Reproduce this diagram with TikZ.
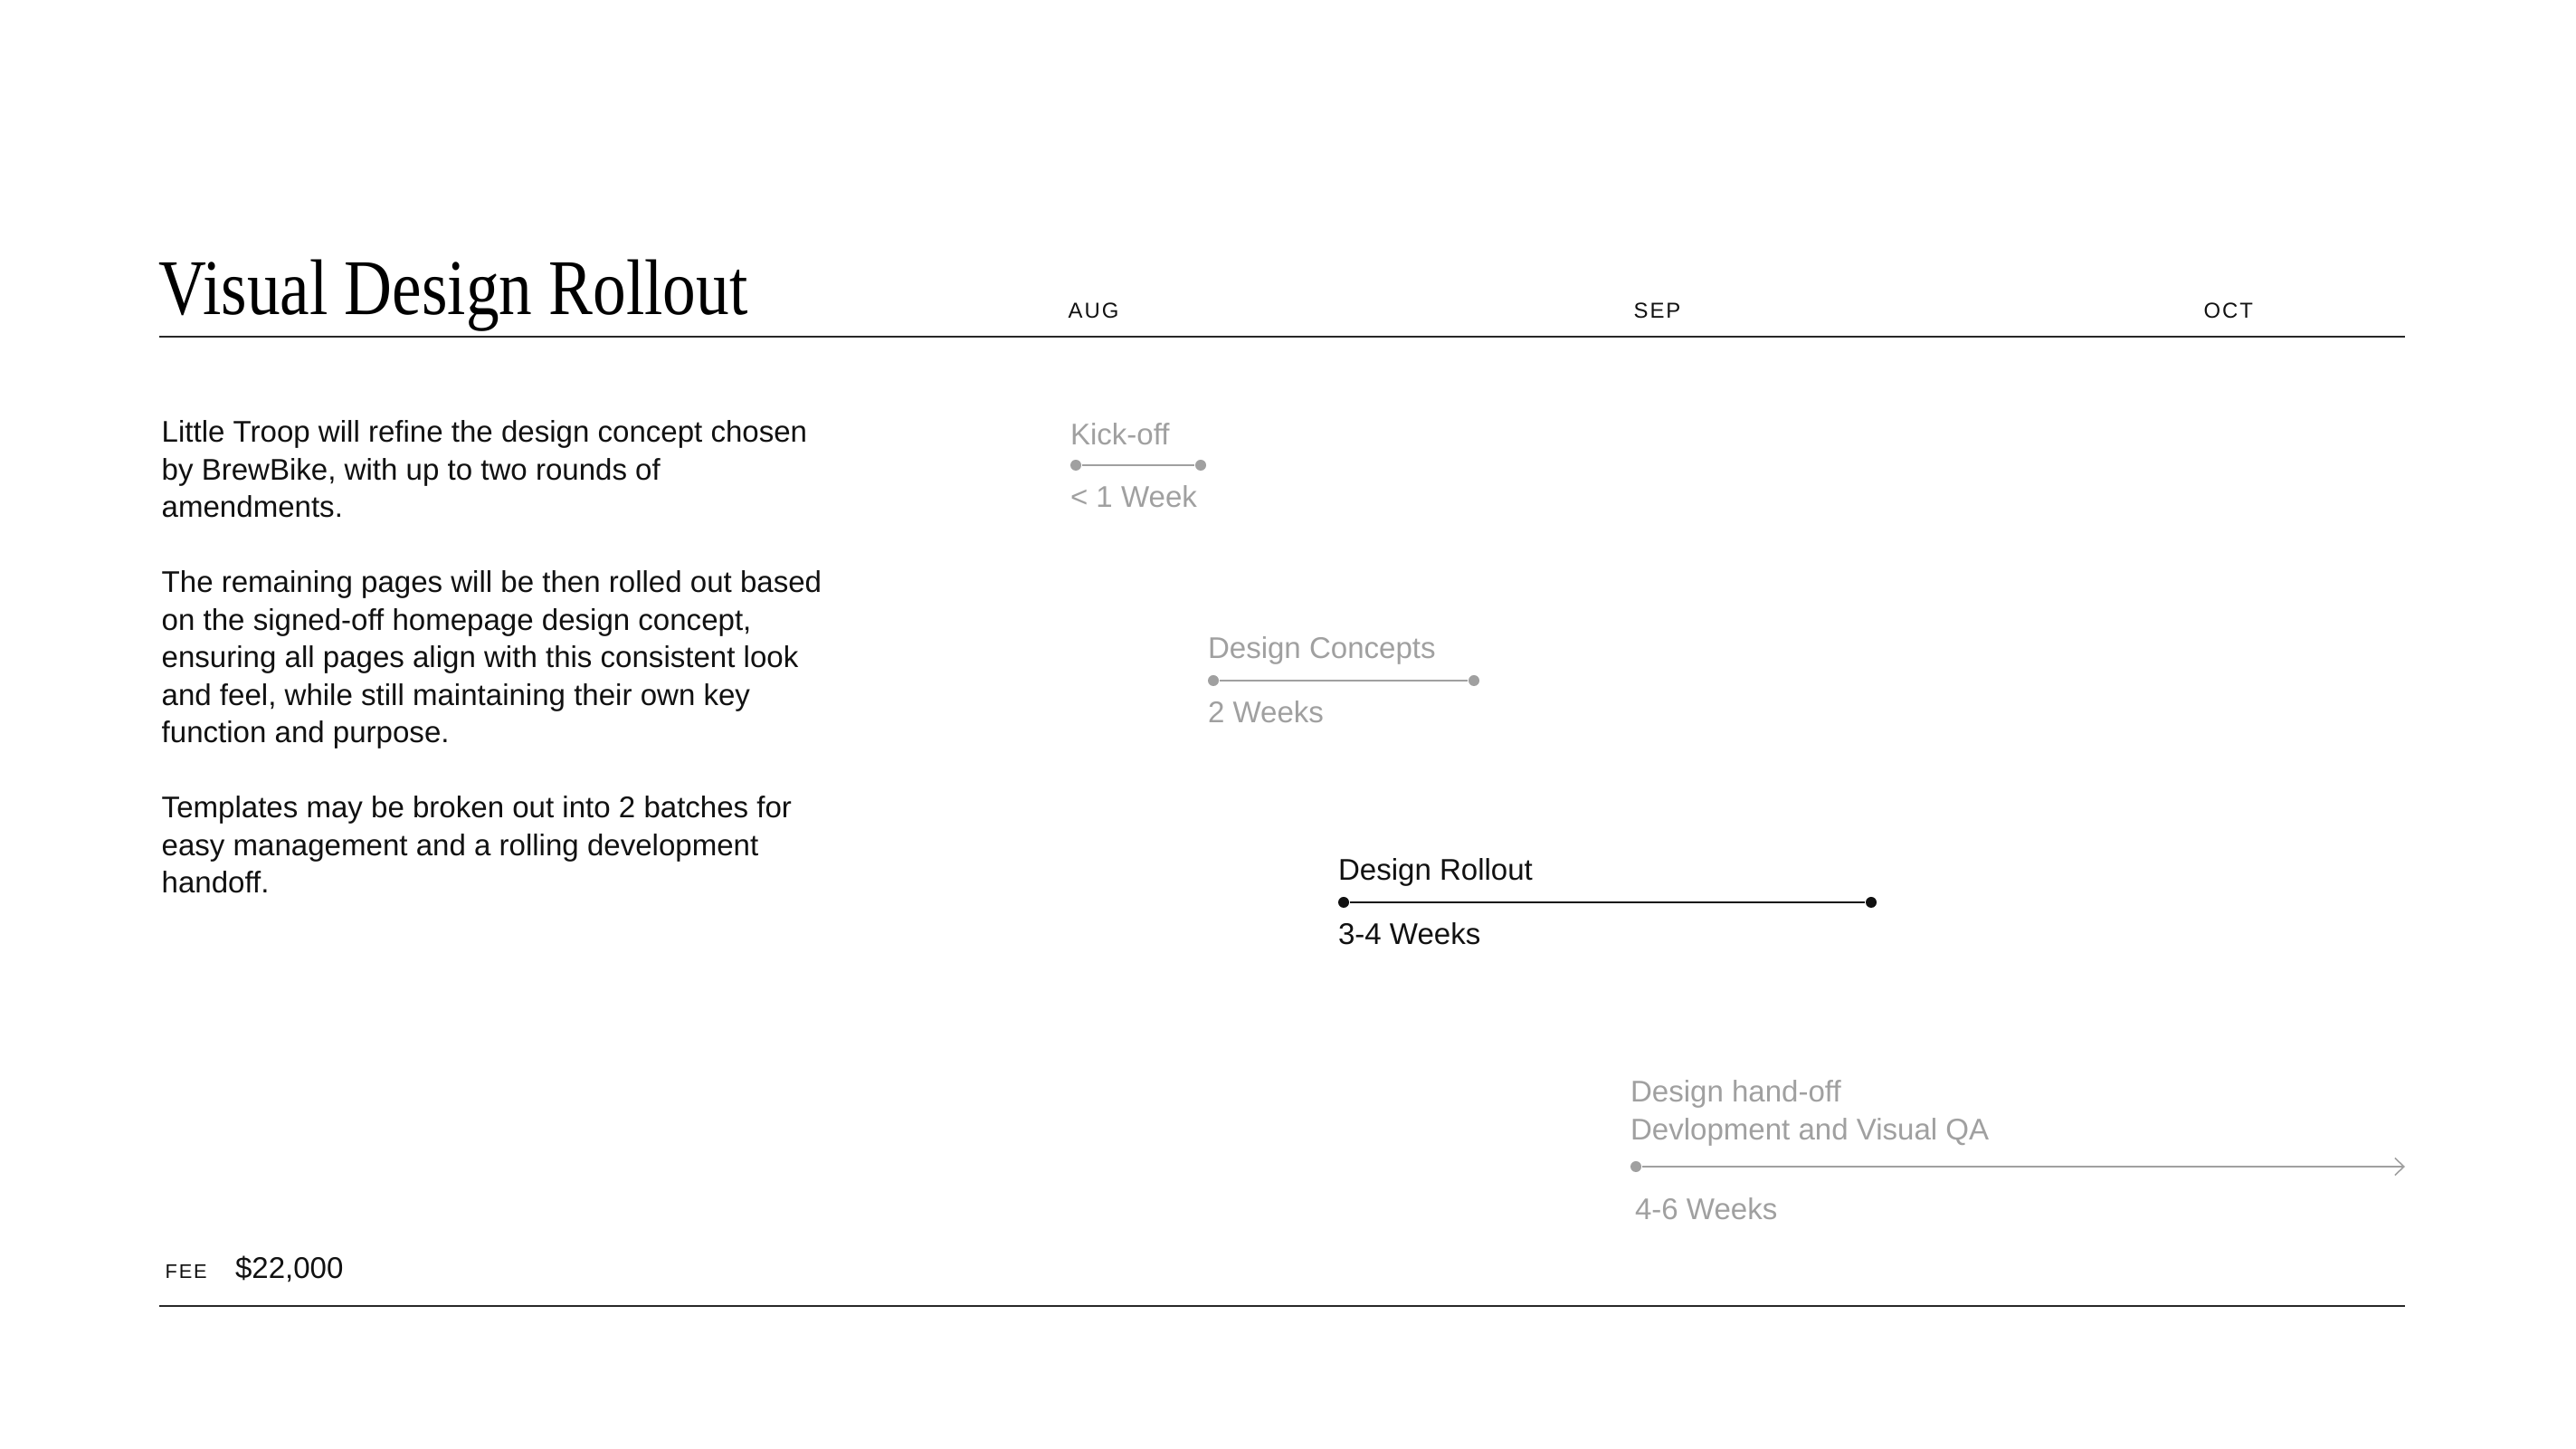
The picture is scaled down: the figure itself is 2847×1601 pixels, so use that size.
\documentclass[tikz,border=0pt]{standalone}
\usepackage{fontspec}
\setmainfont{Liberation Sans}
\newfontfamily\titlefont[FakeStretch=0.84]{Liberation Serif}
\newfontfamily\capsfont[LetterSpace=8]{Liberation Sans}
\usepackage{tikz}
\usetikzlibrary{arrows.meta, positioning, calc}
\definecolor{myink}{RGB}{17,17,17}
\definecolor{mygrey}{RGB}{160,160,160}
\definecolor{myrule}{RGB}{40,40,40}
\tikzset{
  hrule/.style={draw=myrule, line width=0.6pt},
  month/.style={anchor=base west, inner sep=0pt, text=myink,
    font=\capsfont\fontsize{6.8}{8}\selectfont},
  body/.style={anchor=north west, inner sep=0pt, align=left, text=myink,
    font=\fontsize{9.4}{11.8}\selectfont},
  stage/.style={anchor=base west, inner sep=0pt, align=left,
    font=\fontsize{9.4}{11.8}\selectfont},
  enddot/.style={circle, fill=#1, inner sep=0pt, minimum size=0.12cm},
  stagebar/.style={draw=#1, line width=0.45pt},
  arrow/.style={-{Straight Barb[length=0.1cm, width=0.19cm]}}
}

\begin{document}
\begin{tikzpicture}[x=0.01cm, y=-0.01cm]
  \fill[white] (0,0) rectangle (2847,1601);
  \useasboundingbox (0,0) rectangle (2847,1601);

  % heading
  \node[anchor=base west, inner sep=0pt, text=black,
    font=\titlefont\fontsize{24.8}{28}\selectfont] (title) at (175,348) {Visual Design Rollout};
  \node[month] (aug) at (1180,352) {AUG};
  \node[month] (sep) at (1805,352) {SEP};
  \node[month] (oct) at (2435,352) {OCT};
  \coordinate (topL) at (176,372);
  \coordinate (topR) at (2658,372);
  \draw[hrule] (topL) -- (topR);

  % summary
  \node[body] (summary) at (178,464) {Little Troop will refine the design concept chosen\\
    by BrewBike, with up to two rounds of\\
    amendments.\\[11.8pt]
    The remaining pages will be then rolled out based\\
    on the signed-off homepage design concept,\\
    ensuring all pages align with this consistent look\\
    and feel, while still maintaining their own key\\
    function and purpose.\\[11.8pt]
    Templates may be broken out into 2 batches for\\
    easy management and a rolling development\\
    handoff.};

  % kick-off
  \node[enddot=mygrey] (kickA) at (1189,514) {};
  \node[enddot=mygrey] (kickB) at (1327,514) {};
  \draw[stagebar=mygrey] (kickA) -- (kickB);
  \node[stage, text=mygrey] (kickName) at ([yshift=0.22cm]kickA.west) {Kick-off};
  \node[stage, text=mygrey] (kickTime) at ([yshift=-0.46cm]kickA.west) {< 1 Week};

  % concepts
  \node[enddot=mygrey] (conA) at (1341,752) {};
  \node[enddot=mygrey] (conB) at (1629,752) {};
  \draw[stagebar=mygrey] (conA) -- (conB);
  \node[stage, text=mygrey] (conName) at ([yshift=0.24cm]conA.west) {Design Concepts};
  \node[stage, text=mygrey] (conTime) at ([yshift=-0.46cm]conA.west) {2 Weeks};

  % rollout
  \node[enddot=myink] (rollA) at (1485,997) {};
  \node[enddot=myink] (rollB) at (2068,997) {};
  \draw[stagebar=myink, line width=0.6pt] (rollA) -- (rollB);
  \node[stage, text=myink] (rollName) at ([yshift=0.24cm]rollA.west) {Design Rollout};
  \node[stage, text=myink] (rollTime) at ([yshift=-0.46cm]rollA.west) {3-4 Weeks};

  % hand-off
  \node[enddot=mygrey] (handA) at (1808,1289) {};
  \coordinate (handB) at (2658,1289);
  \draw[stagebar=mygrey, arrow] (handA) -- (handB);
  \node[stage, anchor=north west, text=mygrey] (handName) at ([yshift=0.96cm]handA.west)
    {Design hand-off\\Devlopment and Visual QA};
  \node[stage, text=mygrey] (handTime) at ([xshift=0.05cm, yshift=-0.58cm]handA.west) {4-6 Weeks};

  % fee
  \node[anchor=base west, inner sep=0pt, text=myink,
    font=\capsfont\fontsize{6.2}{8}\selectfont] (fee) at (182,1413) {FEE};
  \node[stage, base right=0.3cm of fee, text=myink] (feeValue) {\$22,000};
  \coordinate (botL) at (176,1443);
  \coordinate (botR) at (2658,1443);
  \draw[hrule] (botL) -- (botR);
\end{tikzpicture}
\end{document}
